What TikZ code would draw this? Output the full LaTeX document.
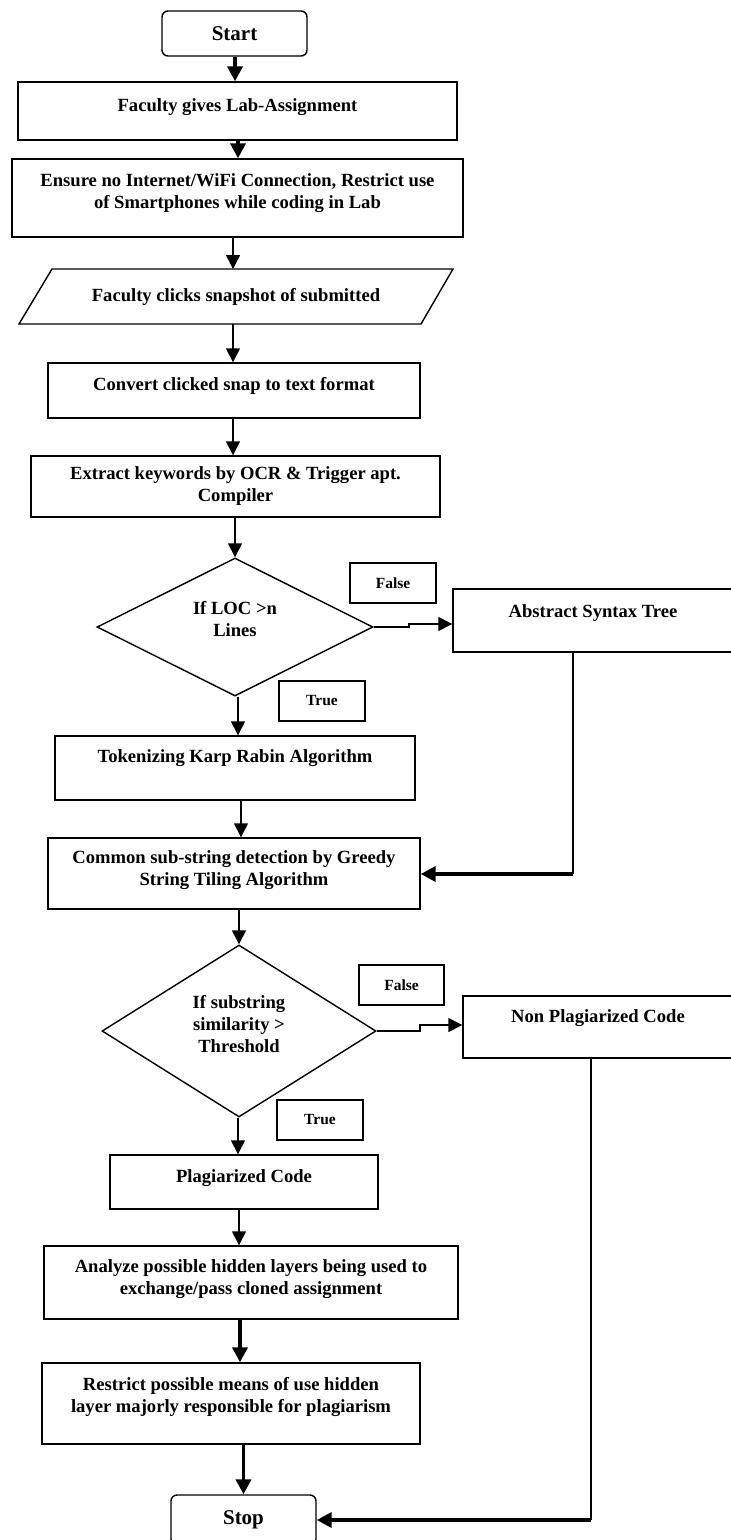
\documentclass[tikz,border=0pt]{standalone}
\usepackage{fontspec}
\setmainfont{Liberation Serif}
\usetikzlibrary{arrows.meta,shapes.geometric}
\newcommand\rs[2]{\raisebox{#1}[\height][\depth]{\begin{tabular}{@{}c@{}}#2\end{tabular}}}
\tikzset{
  box/.style={draw, line width=1.4pt, rectangle, inner sep=0pt, align=center,
    font=\bfseries\fontsize{18.6}{22}\selectfont},
  lbl/.style={box, font=\bfseries\fontsize{15.5}{18}\selectfont},
  term/.style={box, rounded corners=6pt, font=\bfseries\fontsize{21}{24}\selectfont},
  dec/.style={box, diamond, shape aspect=2},
  arr/.style={-{Triangle[length=14pt,width=14pt]}, line width=1.4pt},
  tarr/.style={-{Triangle[length=15pt,width=15pt]}, line width=3.8pt},
  conn/.style={line width=1.4pt, line join=miter}
}
\begin{document}
\begin{tikzpicture}[x=1pt,y=-1pt]
\useasboundingbox (0,0) rectangle (731,1540);
\fill[white] (0,0) rectangle (731,1540);

% nodes
\node[term, minimum width=145pt, minimum height=45pt] (start) at (234.5,33.5) {Start};
\node[box, minimum width=439pt, minimum height=58pt] (fac) at (237.5,111) {\rs{4pt}{Faculty gives Lab-Assignment}};
\node[box, minimum width=451pt, minimum height=78pt] (ens) at (237.5,198) {\rs{4.5pt}{Ensure no Internet/WiFi Connection, Restrict use\\of Smartphones while coding in Lab}};
\node[box, draw=none, outer sep=0pt, minimum width=434pt, minimum height=55pt] (para) at (236,296.5) {Faculty clicks snapshot of submitted};
\draw[conn] ([xshift=33pt]para.north west) -- (para.north east) -- ([xshift=-32pt]para.south east) -- (para.south west) -- cycle;
\node[box, minimum width=372pt, minimum height=55pt] (conv) at (234,390.5) {\rs{4.5pt}{Convert clicked snap to text format}};
\node[box, minimum width=409pt, minimum height=61pt] (ext) at (235.5,486.5) {\rs{0pt}{Extract keywords by OCR \& Trigger apt.\\Compiler}};
\node[dec, minimum width=276pt, minimum height=138pt] (d1) at (235,627) {\rs{5.5pt}{If LOC >n\\Lines}};
\node[lbl, minimum width=86pt, minimum height=40pt] (f1) at (393,583) {False};
\node[box, minimum width=280pt, minimum height=63pt] (ast) at (593,620.5) {\rs{7.5pt}{Abstract Syntax Tree}};
\node[lbl, minimum width=86pt, minimum height=40pt] (t1) at (322,701) {True};
\node[box, minimum width=360pt, minimum height=64pt] (tok) at (235,768) {\rs{10pt}{Tokenizing Karp Rabin Algorithm}};
\node[box, minimum width=372pt, minimum height=71pt] (com) at (234,873.5) {\rs{3pt}{Common sub-string detection by Greedy\\String Tiling Algorithm}};
\node[dec, minimum width=274pt, minimum height=172pt] (d2) at (239,1031) {\rs{4.5pt}{If substring\\similarity >\\Threshold}};
\node[lbl, minimum width=85pt, minimum height=40pt] (f2) at (401.5,985) {False};
\node[box, minimum width=270pt, minimum height=62pt] (np) at (598,1027) {\rs{9pt}{Non Plagiarized Code}};
\node[lbl, minimum width=86pt, minimum height=40pt] (t2) at (320,1120) {True};
\node[box, minimum width=268pt, minimum height=54pt] (plag) at (244,1182) {\rs{4pt}{Plagiarized Code}};
\node[box, minimum width=414pt, minimum height=73pt] (ana) at (251,1282.5) {\rs{3.5pt}{Analyze possible hidden layers being used to\\exchange/pass cloned assignment}};
\node[box, minimum width=378pt, minimum height=81pt] (res) at (231,1403.5) {\rs{6pt}{Restrict possible means of use hidden\\layer majorly responsible for plagiarism}};
\node[term, minimum width=145pt, minimum height=50pt] (stop) at (243.5,1520) {Stop};

% helper coordinates
\coordinate (c233) at (233,0);
\coordinate (c235) at (235,0);
\coordinate (c238) at (238,0);
\coordinate (c239) at (239,0);
\coordinate (c240) at (240,0);
\coordinate (c241) at (241,0);
\coordinate (j1) at (409,624);
\coordinate (j2) at (420,1025);
\coordinate (r1) at (573,874);
\coordinate (r2) at (591,1520);

% connectors
\draw[tarr] (start.south -| c235) -- (fac.north -| c235);
\draw[tarr] (fac.south -| c238) -- (ens.north -| c238);
\draw[arr] (ens.south -| c233) -- (para.north -| c233);
\draw[arr] (para.south -| c233) -- (conv.north -| c233);
\draw[arr] (conv.south -| c233) -- (ext.north -| c233);
\draw[arr] (ext.south -| d1.north) -- (d1.north);
\draw[arr] (d1.east) -| (j1) -- (ast.west |- j1);
\draw[arr] (d1.south -| c238) -- (tok.north -| c238);
\draw[conn] (ast.south -| r1) -- (r1);
\draw[tarr] (r1) -- (com.east |- r1);
\draw[arr] (tok.south -| c241) -- (com.north -| c241);
\draw[arr] (com.south -| d2.north) -- (d2.north);
\draw[arr] (d2.east) -| (j2) -- (np.west |- j2);
\draw[arr] (d2.south -| c238) -- (plag.north -| c238);
\draw[conn] (np.south -| r2) -- (r2);
\draw[tarr] (r2) -- (stop.east);
\draw[arr] (plag.south -| c239) -- (ana.north -| c239);
\draw[tarr] (ana.south -| c240) -- (res.north -| c240);
\draw[tarr] (res.south -| stop.north) -- (stop.north);
\end{tikzpicture}
\end{document}
